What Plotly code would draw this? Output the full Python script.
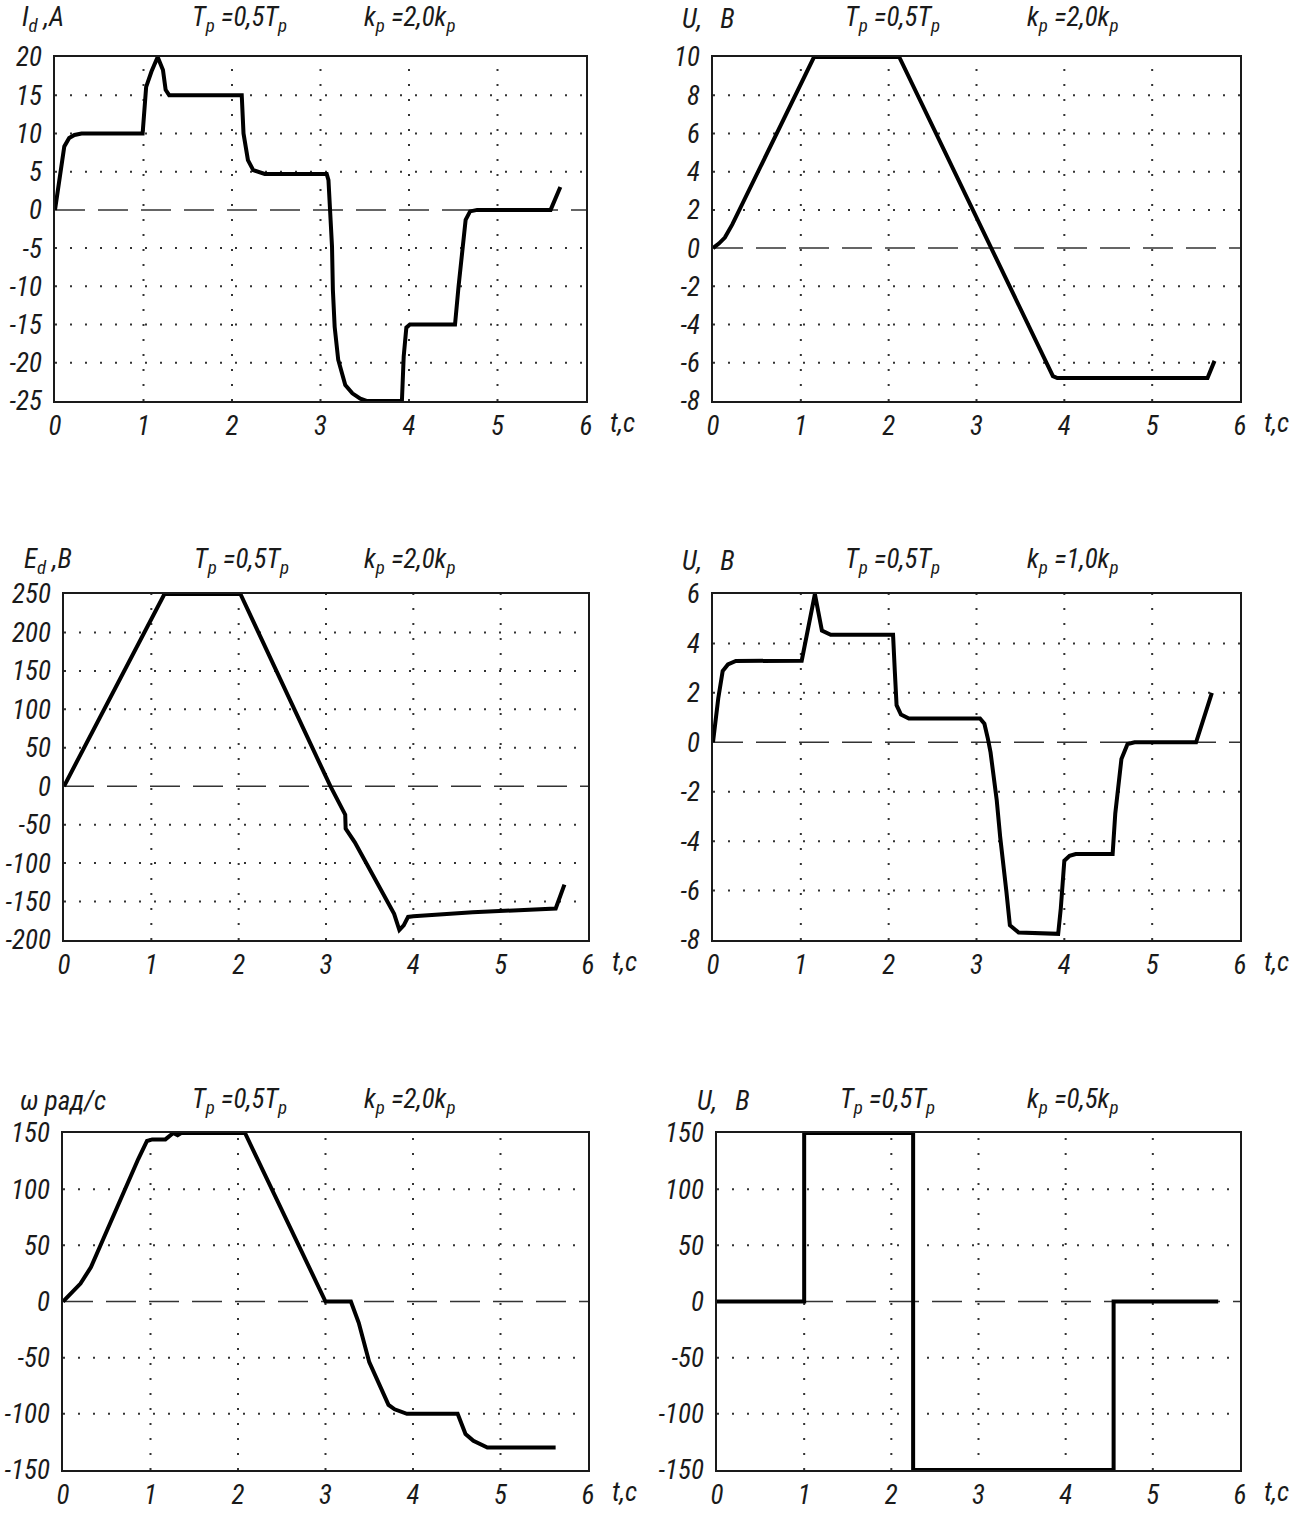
import plotly.graph_objects as go

# ---------------- data ----------------
# Armature current I_d, A
t_id = [0, 0.05, 0.105, 0.16, 0.22, 0.3, 0.99, 1.03, 1.09, 1.16, 1.22, 1.25, 1.29,
        2.11, 2.13, 2.18, 2.24, 2.37, 3.07, 3.09, 3.11, 3.13, 3.14, 3.16, 3.2, 3.28,
        3.36, 3.45, 3.52, 3.92, 3.94, 3.97, 4.01, 4.52, 4.56, 4.61, 4.64, 4.69, 4.77, 5.6, 5.71]
i_d = [0, 3.9, 8.3, 9.4, 9.8, 10, 10, 16.1, 18.1, 20, 18.3, 15.7, 15,
       15, 10, 6.5, 5.2, 4.7, 4.7, 3.9, 0, -4.8, -10.5, -15.3, -19.6, -22.9,
       -24.0, -24.7, -25, -25, -19.2, -15.4, -15, -15, -10, -4.8, -1.3, -0.2, 0, 0, 3.0]

# Controller output U, V (k_p = 2,0 k_p)
t_u1 = [0, 0.07, 0.135, 0.22, 1.15, 2.12, 3.87, 3.92, 5.63, 5.71]
u_1 = [0, 0.25, 0.55, 1.24, 10, 10, -6.7, -6.8, -6.8, -5.9]

# Converter EMF E_d, V
t_ed = [0, 1.15, 2.02, 3.05, 3.22, 3.225, 3.33, 3.78, 3.84, 3.89, 3.94, 4.0, 4.68, 5.63, 5.73]
e_d = [0, 250, 250, 0, -37, -55, -73, -166, -187, -181, -170, -169, -164, -159, -128]

# Controller output U, V (k_p = 1,0 k_p)
t_u2 = [0, 0.06, 0.11, 0.17, 0.26, 1.01, 1.16, 1.24, 1.34, 2.05, 2.07, 2.09, 2.14, 2.23,
        3.04, 3.09, 3.13, 3.16, 3.23, 3.27, 3.34, 3.38, 3.48, 3.93, 3.96, 4.0, 4.06, 4.13,
        4.55, 4.58, 4.65, 4.72, 4.8, 5.5, 5.68]
u_2 = [0, 1.78, 2.88, 3.15, 3.29, 3.3, 6.0, 4.52, 4.35, 4.35, 2.88, 1.5, 1.12, 0.96,
       0.96, 0.75, 0.14, -0.41, -2.33, -3.84, -6.03, -7.4, -7.7, -7.75, -6.71, -4.79, -4.59, -4.52,
       -4.52, -2.88, -0.68, -0.07, 0, 0, 2.0]

# Motor speed omega, rad/s
t_w = [0, 0.11, 0.2, 0.32, 0.5, 0.72, 0.86, 0.96, 1.02, 1.17, 1.23, 1.26, 1.31, 1.35,
       2.08, 3.0, 3.29, 3.38, 3.5, 3.61, 3.72, 3.79, 3.93, 4.51, 4.56, 4.6, 4.69, 4.85, 5.63]
w = [0, 8.7, 16, 30.6, 62.7, 103.5, 126.8, 142.9, 144.3, 144.3, 147.8, 150, 148, 150,
     150, 0, 0, -19, -54, -74, -92, -96, -100, -100, -109, -118, -124, -130, -130]

# Controller output U, V (k_p = 0,5 k_p)
t_u3 = [0, 1.0, 1.0, 2.25, 2.25, 4.55, 4.55, 5.75]
u_3 = [0, 0, 150, 150, -150, -150, 0, 0]

x_ticks = [0, 1, 2, 3, 4, 5, 6]
y_ticks_id = [20, 15, 10, 5, 0, -5, -10, -15, -20, -25]
y_ticks_u1 = [10, 8, 6, 4, 2, 0, -2, -4, -6, -8]
y_ticks_ed = [250, 200, 150, 100, 50, 0, -50, -100, -150, -200]
y_ticks_u2 = [6, 4, 2, 0, -2, -4, -6, -8]
y_ticks_w = [150, 100, 50, 0, -50, -100, -150]
y_ticks_u3 = [150, 100, 50, 0, -50, -100, -150]

NB = "\u00a0"
y_titles = ["I<sub>d</sub>" + NB + ",A", "U," + NB * 3 + "В", "E<sub>d</sub>" + NB + ",В",
            "U," + NB * 3 + "В", "ω" + NB + "рад/с", "U," + NB * 3 + "В"]
t_notes = ["T<sub>р</sub>" + NB + "=0,5T<sub>р</sub>"] * 6
k_notes = ["k<sub>р</sub>" + NB + "=2,0k<sub>р</sub>", "k<sub>р</sub>" + NB + "=2,0k<sub>р</sub>",
           "k<sub>р</sub>" + NB + "=2,0k<sub>р</sub>", "k<sub>р</sub>" + NB + "=1,0k<sub>р</sub>",
           "k<sub>р</sub>" + NB + "=2,0k<sub>р</sub>", "k<sub>р</sub>" + NB + "=0,5k<sub>р</sub>"]
x_title = "t,с"

# ---------------- layout geometry (pixels) ----------------
W, H = 1304, 1513
FONT = "Roboto Condensed, Liberation Sans, sans-serif"
INK = "#1a1a1a"
FS = 27

series = [(t_id, i_d), (t_u1, u_1), (t_ed, e_d), (t_u2, u_2), (t_w, w), (t_u3, u_3)]
yticks = [y_ticks_id, y_ticks_u1, y_ticks_ed, y_ticks_u2, y_ticks_w, y_ticks_u3]
# plot-area boxes: left, right, top, bottom
boxes = [(55, 586, 57, 401), (713, 1240, 57, 401),
         (64, 588, 594, 940), (713, 1240, 594, 940),
         (63, 588, 1133, 1470), (717, 1240, 1133, 1470)]
# header text rows (y) and x positions
head_y = [19, 19, 561, 561, 1101, 1101]
head_x = [(20, 190, 362), (680, 843, 1025), (22, 192, 362),
          (680, 843, 1025), (18, 190, 362), (695, 838, 1025)]


def fx(p):
    return p / W


def fy(p):
    return 1 - p / H


fig = go.Figure()
shapes = []
annotations = []

for k in range(6):
    n = k + 1
    suffix = str(n) if n > 1 else ""
    xa, ya = "x" + suffix, "y" + suffix
    l, r, t, b = boxes[k]
    yt = yticks[k]
    ylo, yhi = min(yt), max(yt)
    tickfont = dict(family=FONT, size=FS, color=INK, style="italic")

    fig.layout["xaxis" + suffix] = dict(
        domain=[fx(l), fx(r)], anchor=ya, range=[0, 6], automargin=False,
        tickvals=x_ticks, ticktext=[str(v) for v in x_ticks],
        showgrid=False, zeroline=False, showline=True, mirror=True,
        linecolor=INK, linewidth=1.5, ticks="", fixedrange=True,
        ticklabelstandoff=0, tickfont=tickfont,
    )
    fig.layout["yaxis" + suffix] = dict(
        domain=[fy(b), fy(t)], anchor=xa, range=[ylo, yhi], automargin=False,
        tickvals=yt, ticktext=[str(v) for v in yt],
        showgrid=False, zeroline=False, showline=True, mirror=True,
        linecolor=INK, linewidth=1.5, ticks="", fixedrange=True,
        ticklabelstandoff=6, tickfont=tickfont,
    )

    # dotted grid
    for v in x_ticks[1:-1]:
        shapes.append(dict(type="line", xref=xa, yref=ya + " domain", x0=v, x1=v, y0=0, y1=1,
                           line=dict(color="#333", width=2, dash="2px,13px"), layer="below"))
    for v in yt:
        if v in (ylo, yhi, 0):
            continue
        shapes.append(dict(type="line", xref=xa + " domain", yref=ya, x0=0, x1=1, y0=v, y1=v,
                           line=dict(color="#333", width=2, dash="2px,13px"), layer="below"))

    # dashed zero line
    fig.add_trace(go.Scatter(x=[0, 6], y=[0, 0], xaxis=xa, yaxis=ya, mode="lines",
                             line=dict(color="#333", width=1.5, dash="30px,13px"),
                             hoverinfo="skip", showlegend=False))
    # curve
    tx, vy = series[k]
    fig.add_trace(go.Scatter(x=tx, y=vy, xaxis=xa, yaxis=ya, mode="lines",
                             line=dict(color="black", width=4),
                             showlegend=False))

    # header texts
    hx = head_x[k]
    for txt, px in zip([y_titles[k], t_notes[k], k_notes[k]], hx):
        annotations.append(dict(text=txt, x=fx(px), y=fy(head_y[k]), xref="paper", yref="paper",
                                xanchor="left", yanchor="middle", showarrow=False,
                                font=dict(family=FONT, size=FS, color=INK, style="italic")))
    # time axis label
    annotations.append(dict(text=x_title, x=fx(r + 22), y=fy(b + 22), xref="paper", yref="paper",
                            xanchor="left", yanchor="middle", showarrow=False,
                            font=dict(family=FONT, size=FS, color=INK, style="italic")))

fig.update_layout(
    width=W, height=H, margin=dict(l=0, r=0, t=0, b=0),
    paper_bgcolor="white", plot_bgcolor="white",
    shapes=shapes, annotations=annotations, showlegend=False,
    font=dict(family=FONT, color=INK),
)

fig.write_html("out.html")
